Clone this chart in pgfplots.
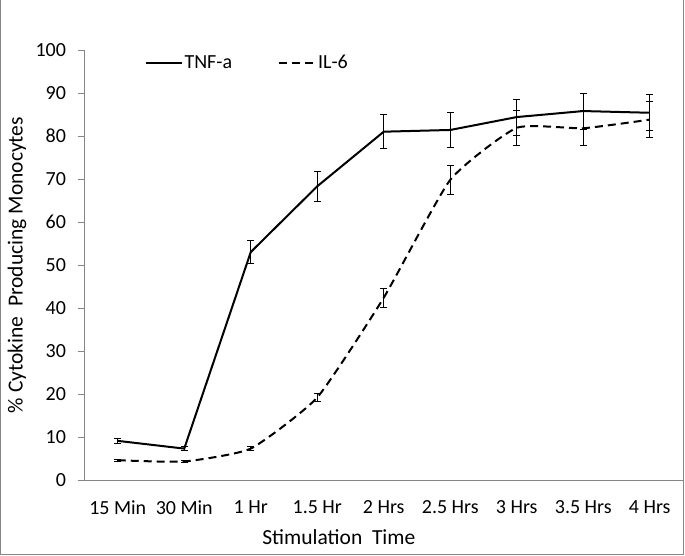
\documentclass[border=0pt]{standalone}
\usepackage{fontspec}
\setmainfont{Carlito}
\usepackage{pgfplots}
\pgfplotsset{compat=1.18}
\definecolor{axgray}{RGB}{134,134,134}
\newcommand{\chartfont}{\fontsize{20bp}{24bp}\selectfont}
\newcommand{\labelfont}{\fontsize{21.5bp}{25bp}\selectfont}

\begin{document}
\begin{tikzpicture}[x=1bp,y=1bp]
\useasboundingbox (0,0) rectangle (685,556);
% chart border (top edge is cut off in the reference)
\draw[axgray, line width=0.8bp] (0.5,556) -- (0.5,1.5) -- (683.5,1.5) -- (683.5,556);
\begin{axis}[
    at={(84.5bp,76bp)}, anchor=south west,
    scale only axis, width=598.5bp, height=430bp,
    xmin=-0.5, xmax=8.5, ymin=0, ymax=100,
    axis x line=bottom, axis y line=left,
    axis line style={-, axgray, line width=0.8bp},
    tick align=outside,
    major tick length=7bp, minor tick length=7bp,
    ytick={0,10,...,100},
    ytick style={axgray, line width=0.8bp},
    xtick={0,...,8},
    xticklabels={15 Min,30 Min,1 Hr,1.5 Hr,2 Hrs,2.5 Hrs,3 Hrs,3.5 Hrs,4 Hrs},
    xtick style={draw=none},
    minor xtick={-0.5,0.5,...,8.5},
    minor x tick style={axgray, line width=0.8bp},
    tick label style={font=\chartfont, black},
    xticklabel style={yshift=-10bp},
    yticklabel style={xshift=-8bp},
    /pgf/number format/assume math mode=true,
    xlabel={Stimulation~ Time},
    ylabel={\% Cytokine~ Producing Monocytes},
    label style={font=\labelfont},
    xlabel style={at={(axis description cs:0.425,0)}, anchor=base, yshift=-65bp},
    ylabel style={at={(axis description cs:-0.1128,0.5)}, anchor=center},
    legend style={at={(axis description cs:0.095,0.97)}, anchor=west,
        draw=none, fill=none, font=\chartfont, legend columns=2,
        /tikz/every even column/.append style={column sep=44bp}},
    legend image code/.code={\draw[#1] (0bp,0bp) -- (36bp,0bp);},
    clip=false,
]
\addplot[black, line width=2bp,
    error bars/.cd, y dir=both, y explicit,
    error bar style={line width=0.8bp, solid},
    error mark options={rotate=90, mark size=3.5bp, line width=0.8bp, solid}]
coordinates {
    (0,9.1)  +- (0,0.5)
    (1,7.3)  +- (0,0.4)
    (2,53.0) +- (0,2.7)
    (3,68.3) +- (0,3.4)
    (4,81.0) +- (0,4.0)
    (5,81.4) +- (0,4.1)
    (6,84.4) +- (0,4.2)
    (7,85.8) +- (0,4.2)
    (8,85.4) +- (0,4.2)
};
\addlegendentry{TNF-a}
\addplot[black, line width=2bp, dash pattern=on 8bp off 5bp, smooth, tension=0.3,
    error bars/.cd, y dir=both, y explicit,
    error bar style={line width=0.8bp, solid},
    error mark options={rotate=90, mark size=3.5bp, line width=0.8bp, solid}]
coordinates {
    (0,4.6)  +- (0,0.3)
    (1,4.3)  +- (0,0.3)
    (2,7.3)  +- (0,0.4)
    (3,19.2) +- (0,0.9)
    (4,42.4) +- (0,2.2)
    (5,69.8) +- (0,3.4)
    (6,81.9) +- (0,4.1)
    (7,81.8) +- (0,4.1)
    (8,83.8) +- (0,4.2)
};
\addlegendentry{IL-6}
\end{axis}
\end{tikzpicture}
\end{document}
